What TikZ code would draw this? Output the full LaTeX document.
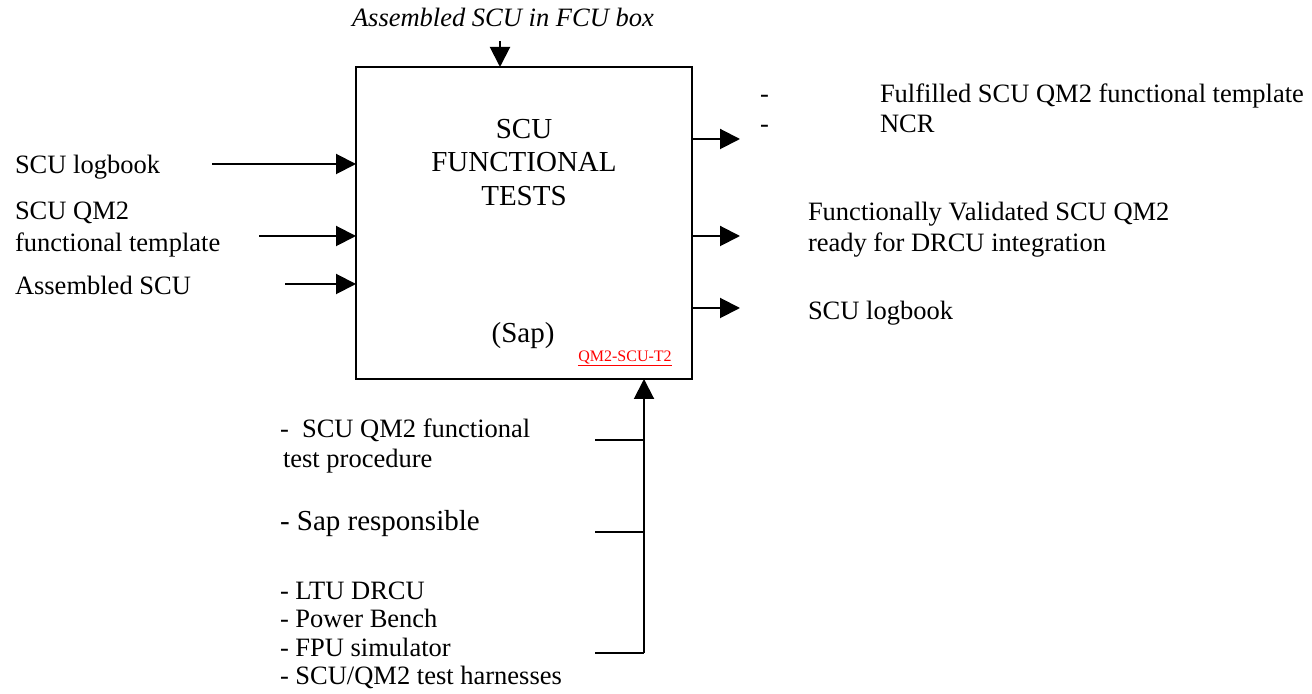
\documentclass[tikz,border=0pt]{standalone}
\usepackage{fontspec}
\setmainfont{Liberation Serif}
\usetikzlibrary{arrows.meta}

\begin{document}
\begin{tikzpicture}[x=0.5pt,y=-0.5pt,
  lbl/.style={anchor=base west,inner sep=0pt,outer sep=0pt,font=\fontsize{13.25}{16}\selectfont},
  boxtxt/.style={anchor=base,inner sep=0pt,font=\fontsize{14.5}{17}\selectfont},
  flow/.style={line width=1pt,-{Triangle[length=10pt,width=10pt]}},
  wire/.style={line width=1pt},
  actbox/.style={draw,line width=1.2pt,minimum width=168pt,minimum height=156pt,inner sep=0pt,outer sep=0pt}]
\useasboundingbox (0,0) rectangle (1312,694);

% activity box
\node[actbox] (box) at (524,223) {};
\node[boxtxt] (t1) at (524,139) {SCU};
\node[boxtxt] (t2) at (524,172) {FUNCTIONAL};
\node[boxtxt] (t3) at (524,206) {TESTS};
\node[boxtxt] (who) at (523,343) {(Sap)};
\node[anchor=base,inner sep=0pt,text=red,font=\fontsize{8}{10}\selectfont] (ref) at (625,362) {QM2-SCU-T2};
\draw[red,line width=0.6pt] ([yshift=-1.6pt]ref.base west) -- ([yshift=-1.6pt]ref.base east);

% control from above
\node[lbl,font=\fontsize{13.25}{16}\selectfont\itshape] (ctrl) at (352,27) {Assembled SCU in FCU box};
\coordinate (top) at (500,41);
\draw[flow] (top) -- (top |- box.north);

% inputs
\node[lbl] (inA) at (15,174) {SCU logbook};
\node[lbl] (inB1) at (15,220) {SCU QM2};
\node[lbl] (inB2) at (15,252) {functional template};
\node[lbl] (inC) at (15,295) {Assembled SCU};
\coordinate (ia) at (212,164);
\coordinate (ib) at (259,236);
\coordinate (ic) at (285,284);
\draw[flow] (ia) -- (ia -| box.west);
\draw[flow] (ib) -- (ib -| box.west);
\draw[flow] (ic) -- (ic -| box.west);

% outputs
\coordinate (oa) at (740,139);
\coordinate (ob) at (740,236);
\coordinate (oc) at (740,308);
\draw[flow] (oa -| box.east) -- (oa);
\draw[flow] (ob -| box.east) -- (ob);
\draw[flow] (oc -| box.east) -- (oc);
\node[lbl] (d1) at (760,103) {-};
\node[lbl] (d2) at (760,133) {-};
\node[lbl] (outA1) at (880,103) {Fulfilled SCU QM2 functional template};
\node[lbl] (outA2) at (880,133) {NCR};
\node[lbl] (outB1) at (808,221) {Functionally Validated SCU QM2};
\node[lbl] (outB2) at (808,252) {ready for DRCU integration};
\node[lbl] (outC) at (808,320) {SCU logbook};

% mechanisms from below
\coordinate (mech) at (644,653);
\coordinate (m1) at (595,440);
\coordinate (m2) at (595,532);
\coordinate (m3) at (595,653);
\draw[flow] (mech) -- (mech |- box.south);
\draw[wire] (m1) -- (m1 -| mech);
\draw[wire] (m2) -- (m2 -| mech);
\draw[wire] (m3) -- (mech);
\node[lbl] (mA1) at (280,438) {-\ \ SCU QM2 functional};
\node[lbl] (mA2) at (283,468) {test procedure};
\node[lbl,font=\fontsize{14.5}{17}\selectfont] (mB) at (280,531) {- Sap responsible};
\node[lbl] (mC1) at (280,600) {- LTU DRCU};
\node[lbl] (mC2) at (280,628) {- Power Bench};
\node[lbl] (mC3) at (280,656) {- FPU simulator};
\node[lbl] (mC4) at (280,684) {- SCU/QM2 test harnesses};
\end{tikzpicture}
\end{document}
